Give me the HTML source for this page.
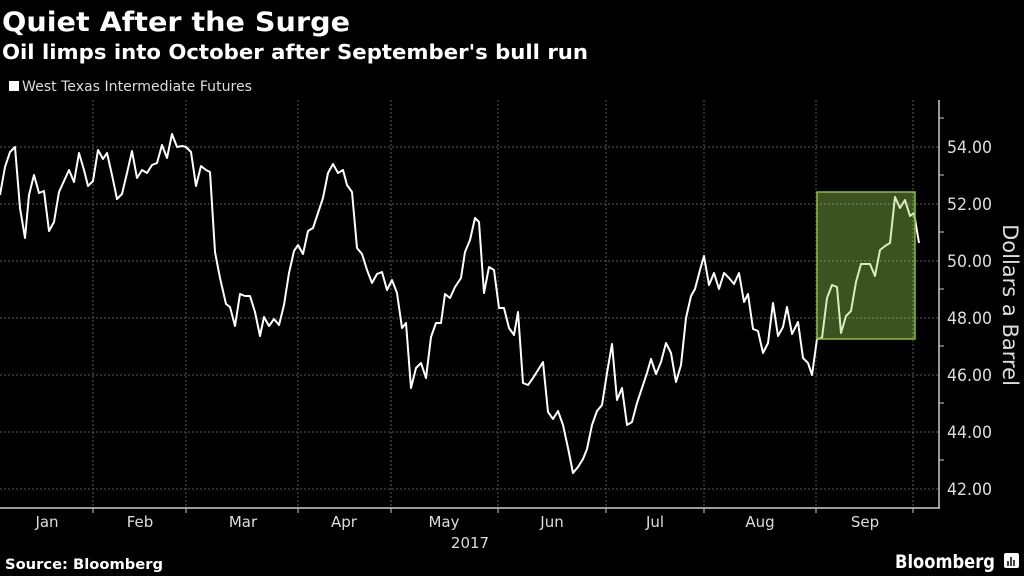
<!DOCTYPE html>
<html><head><meta charset="utf-8"><style>
html,body{margin:0;padding:0;background:#000;}
svg{display:block;font-family:"DejaVu Sans","Liberation Sans",sans-serif;}
</style></head><body>
<svg width="1024" height="576" viewBox="0 0 1024 576" xmlns="http://www.w3.org/2000/svg">
<rect width="1024" height="576" fill="#000"/>
<text x="2" y="31" fill="#fff" font-size="27" font-weight="bold" textLength="348" lengthAdjust="spacingAndGlyphs">Quiet After the Surge</text>
<text x="2" y="59" fill="#fff" font-size="20" font-weight="bold" textLength="586" lengthAdjust="spacingAndGlyphs">Oil limps into October after September's bull run</text>
<rect x="9" y="81" width="10" height="10" fill="#fff"/>
<text x="22" y="91" fill="#ddd" font-size="14" textLength="230" lengthAdjust="spacingAndGlyphs">West Texas Intermediate Futures</text>
<g stroke="#5a5a5a" stroke-width="1" stroke-dasharray="2,2">
<line x1="0" y1="147" x2="939" y2="147"/><line x1="0" y1="204" x2="939" y2="204"/>
<line x1="0" y1="261" x2="939" y2="261"/><line x1="0" y1="318" x2="939" y2="318"/>
<line x1="0" y1="375" x2="939" y2="375"/><line x1="0" y1="432" x2="939" y2="432"/>
<line x1="0" y1="489" x2="939" y2="489"/>
<line x1="93" y1="100" x2="93" y2="508"/><line x1="186" y1="100" x2="186" y2="508"/>
<line x1="298" y1="100" x2="298" y2="508"/><line x1="391" y1="100" x2="391" y2="508"/>
<line x1="498" y1="100" x2="498" y2="508"/><line x1="606" y1="100" x2="606" y2="508"/>
<line x1="704" y1="100" x2="704" y2="508"/><line x1="816" y1="100" x2="816" y2="508"/>
<line x1="913" y1="100" x2="913" y2="508"/>
</g>
<polyline fill="none" stroke="#fff" stroke-width="2" stroke-linejoin="round" points="0,195 5,167 10,152 15,147 20,208 25,238 29,195 34,175 39,193 44,191 49,231 54,222 59,192 64,181 69,170 74,182 79,153 84,170 88,186 93,181 98,150 103,159 107,153 112,175 117,199 122,194 127,173 132,151 137,178 142,170 147,173 152,165 157,163 162,145 167,158 172,134 177,147 182,146 186,147 191,152 196,186 201,166 206,170 210,172 215,252 220,278 226,304 230,307 235,326 240,294 245,296 250,296 255,312 260,336 264,317 269,326 274,319 279,325 284,305 289,273 294,251 298,245 303,254 308,231 313,228 318,213 323,198 328,173 333,164 338,173 343,170 347,185 352,192 357,248 362,254 367,270 372,283 377,274 382,272 387,290 392,280 397,293 402,328 406,323 411,388 416,368 421,363 426,378 431,337 436,323 441,323 445,294 450,298 455,287 461,278 465,252 470,240 475,218 479,222 484,293 489,267 494,270 499,308 504,308 509,328 514,335 518,312 523,383 528,385 533,378 538,370 543,362 548,412 553,419 558,411 563,425 568,448 573,473 578,467 583,459 587,449 592,425 597,411 602,405 607,373 612,344 617,400 622,388 627,425 632,422 637,403 642,388 647,373 651,359 656,374 661,362 666,343 671,353 676,382 681,365 686,318 691,296 695,289 700,270 704,256 709,285 714,273 719,289 724,273 729,278 734,284 739,273 744,302 748,294 753,329 758,331 763,353 768,343 773,303 778,336 783,327 787,307 792,334 798,322 803,358 808,363 812,375 817,339 822,338 827,298 832,285 837,287 841,333 846,316 851,311 856,282 861,264 870,264 875,276 880,250 885,246 890,243 895,197 900,208 905,200 910,216 914,213 919,243"/>
<rect x="817" y="192" width="98" height="147" fill="rgb(154,213,85)" fill-opacity="0.39" stroke="#8cbd3f" stroke-width="1.5"/>
<g stroke="#ccc" stroke-width="1.5">
<line x1="0" y1="508" x2="940" y2="508"/>
<line x1="939" y1="100" x2="939" y2="508"/>
</g>
<g stroke="#ccc" stroke-width="1">
<line x1="93" y1="508" x2="93" y2="513"/><line x1="186" y1="508" x2="186" y2="513"/>
<line x1="298" y1="508" x2="298" y2="513"/><line x1="391" y1="508" x2="391" y2="513"/>
<line x1="498" y1="508" x2="498" y2="513"/><line x1="606" y1="508" x2="606" y2="513"/>
<line x1="704" y1="508" x2="704" y2="513"/><line x1="816" y1="508" x2="816" y2="513"/>
<line x1="913" y1="508" x2="913" y2="513"/>
<line x1="939" y1="118" x2="944" y2="118"/><line x1="939" y1="175" x2="944" y2="175"/>
<line x1="939" y1="232" x2="944" y2="232"/><line x1="939" y1="289" x2="944" y2="289"/>
<line x1="939" y1="346" x2="944" y2="346"/><line x1="939" y1="403" x2="944" y2="403"/>
<line x1="939" y1="460" x2="944" y2="460"/>
</g>
<g fill="#ddd" font-size="17">
<text x="947" y="153" textLength="45" lengthAdjust="spacingAndGlyphs">54.00</text><text x="947" y="210" textLength="45" lengthAdjust="spacingAndGlyphs">52.00</text>
<text x="947" y="267" textLength="45" lengthAdjust="spacingAndGlyphs">50.00</text><text x="947" y="324" textLength="45" lengthAdjust="spacingAndGlyphs">48.00</text>
<text x="947" y="381" textLength="45" lengthAdjust="spacingAndGlyphs">46.00</text><text x="947" y="438" textLength="45" lengthAdjust="spacingAndGlyphs">44.00</text>
<text x="947" y="495" textLength="45" lengthAdjust="spacingAndGlyphs">42.00</text>
</g>
<text transform="translate(1003,305) rotate(90)" text-anchor="middle" fill="#ddd" font-size="21">Dollars a Barrel</text>
<g fill="#ddd" font-size="15" text-anchor="middle">
<text x="47" y="527">Jan</text><text x="140" y="527">Feb</text><text x="243" y="527">Mar</text>
<text x="344" y="527">Apr</text><text x="444" y="527">May</text><text x="552" y="527">Jun</text>
<text x="655" y="527">Jul</text><text x="760" y="527">Aug</text><text x="865" y="527">Sep</text>
<text x="470" y="548">2017</text>
</g>
<text x="5" y="569" fill="#fff" font-size="14" font-weight="bold" textLength="158" lengthAdjust="spacingAndGlyphs">Source: Bloomberg</text>
<text x="895" y="568" fill="#fff" font-size="19" font-weight="bold" textLength="100" lengthAdjust="spacingAndGlyphs">Bloomberg</text>
<rect x="1004" y="553" width="15" height="15" rx="2" fill="#fff"/>
<g stroke="#000" stroke-width="1.5"><line x1="1008" y1="566" x2="1008" y2="561"/><line x1="1011" y1="566" x2="1011" y2="557"/><line x1="1014" y1="566" x2="1014" y2="560"/></g>
</svg>
</body></html>
